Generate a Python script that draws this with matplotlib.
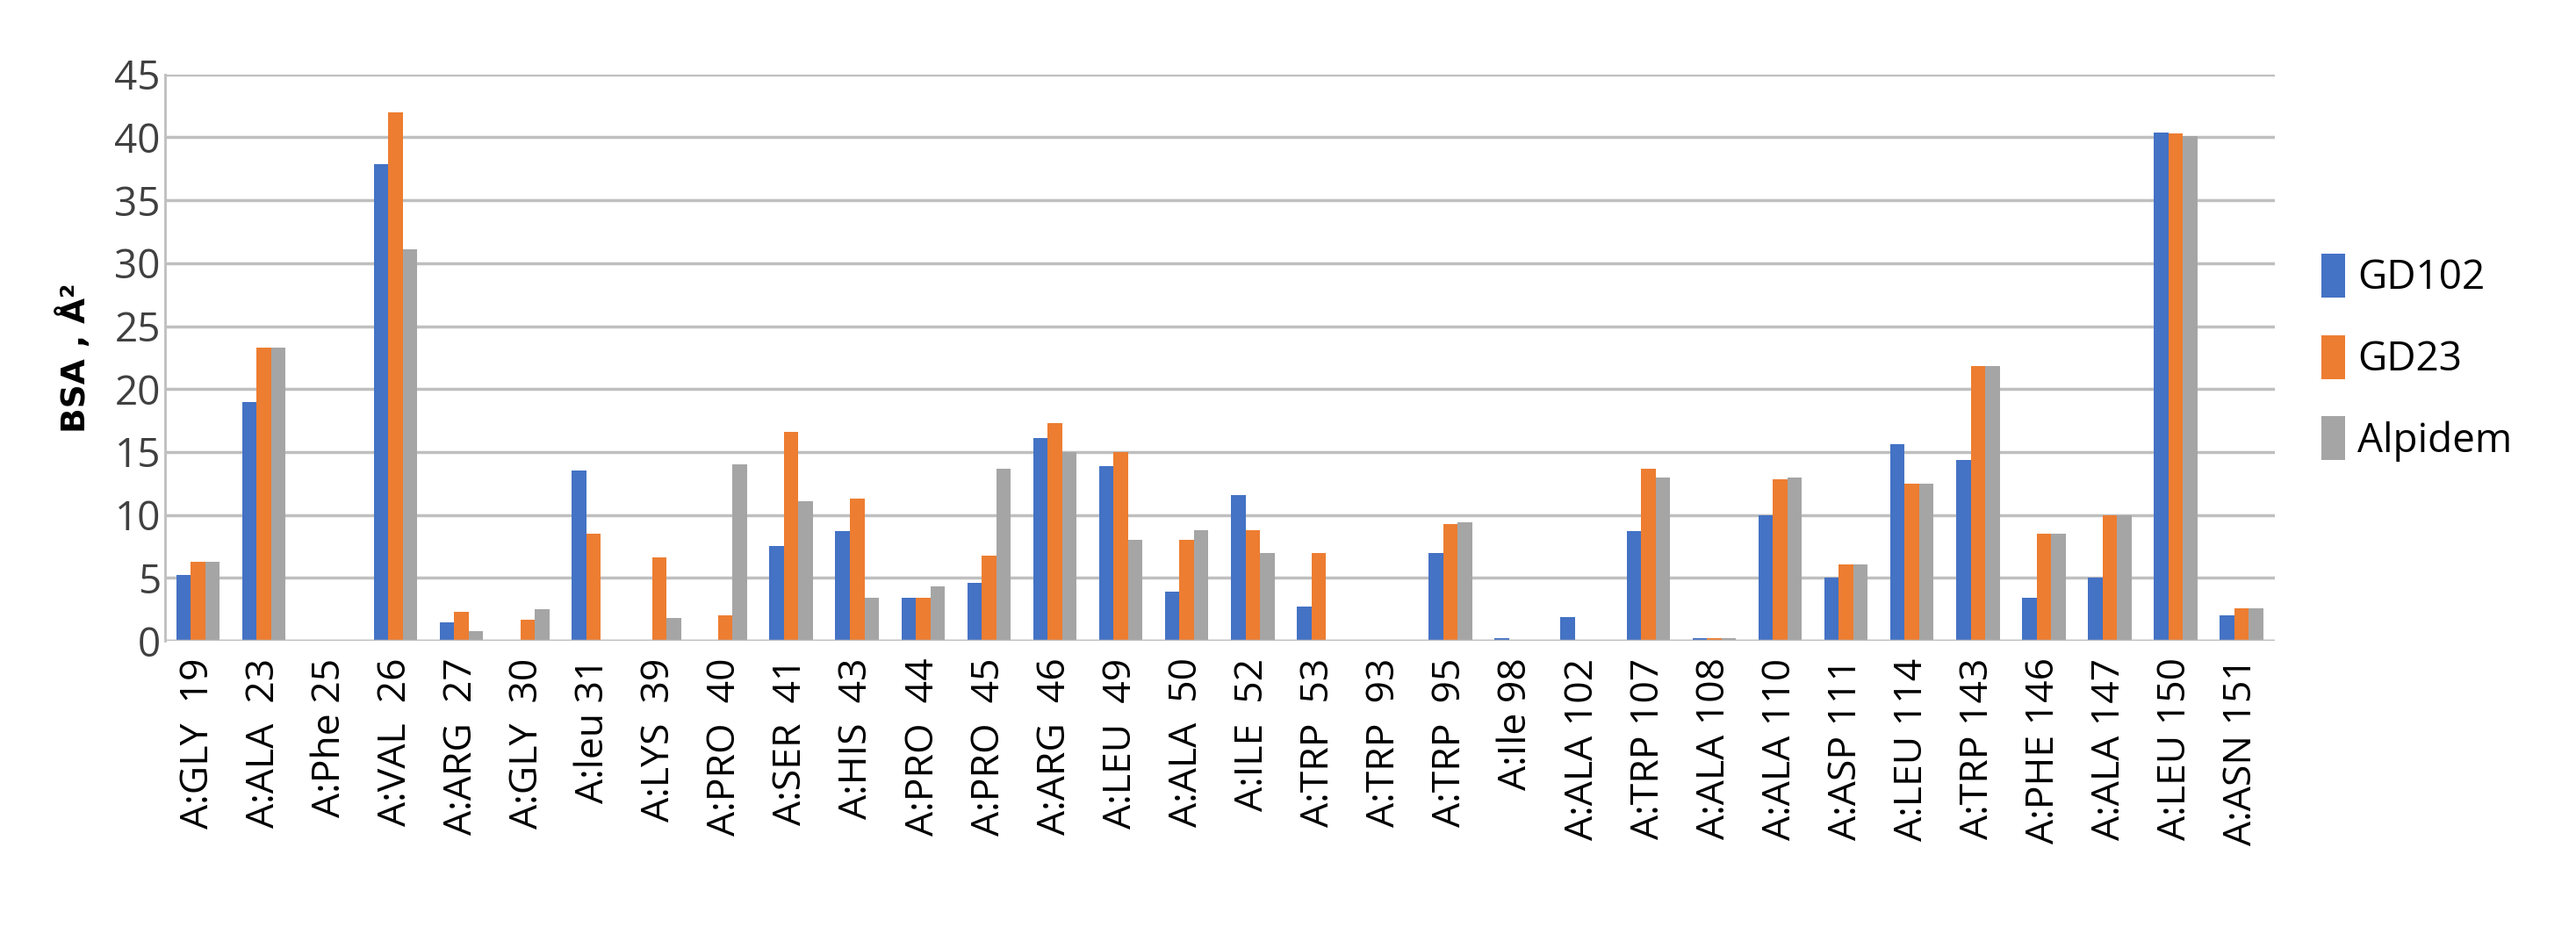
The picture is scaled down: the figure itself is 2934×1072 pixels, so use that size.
import matplotlib
matplotlib.use('Agg')
import matplotlib.pyplot as plt
import numpy as np

residues = ["A:GLY  19", "A:ALA  23", "A:Phe 25", "A:VAL  26", "A:ARG  27", "A:GLY  30",
            "A:leu 31", "A:LYS  39", "A:PRO  40", "A:SER  41", "A:HIS  43", "A:PRO  44",
            "A:PRO  45", "A:ARG  46", "A:LEU  49", "A:ALA  50", "A:ILE  52", "A:TRP  53",
            "A:TRP  93", "A:TRP  95", "A:Ile 98", "A:ALA 102", "A:TRP 107", "A:ALA 108",
            "A:ALA 110", "A:ASP 111", "A:LEU 114", "A:TRP 143", "A:PHE 146", "A:ALA 147",
            "A:LEU 150", "A:ASN 151"]
gd102 = [5.2, 19.0, 0, 37.9, 1.5, 0, 13.5, 0, 0, 7.5, 8.7, 3.4, 4.6, 16.1, 13.9, 3.9,
         11.6, 2.7, 0, 7.0, 0.2, 1.9, 8.7, 0.2, 10.0, 5.0, 15.6, 14.4, 3.4, 5.0, 40.4, 2.0]
gd23 = [6.3, 23.3, 0, 42.0, 2.3, 1.7, 8.5, 6.6, 2.0, 16.6, 11.3, 3.4, 6.8, 17.3, 15.0, 8.0,
        8.8, 7.0, 0, 9.3, 0, 0, 13.7, 0.2, 12.8, 6.1, 12.5, 21.8, 8.5, 10.0, 40.3, 2.6]
alpidem = [6.3, 23.3, 0, 31.1, 0.8, 2.5, 0, 1.8, 14.0, 11.1, 3.4, 4.3, 13.7, 15.0, 8.0, 8.8,
           7.0, 0, 0, 9.4, 0, 0, 13.0, 0.2, 13.0, 6.1, 12.5, 21.8, 8.5, 10.0, 40.1, 2.6]
series = [("GD102", gd102, "#4472C4"), ("GD23", gd23, "#ED7D31"), ("Alpidem", alpidem, "#A5A5A5")]

plt.rcParams['font.family'] = ['Open Sans', 'DejaVu Sans']
fig = plt.figure(figsize=(29.34, 10.72), dpi=100)
ax = fig.add_axes([0.064, 0.319, 0.819, 0.602])

x = np.arange(len(residues))
w = 0.22
for i, (name, vals, col) in enumerate(series):
    ax.bar(x + (i - 1) * w, vals, w, color=col, label=name, zorder=3)

ax.set_xlim(-0.5, len(residues) - 0.5)
ax.set_ylim(0, 45)
ax.set_yticks(range(0, 46, 5))
ax.yaxis.grid(True, color='#BFBFBF', linewidth=2.5, zorder=0)
ax.set_xticks(x)
ax.set_xticklabels(residues, rotation=90, fontsize=32)
ax.tick_params(axis='y', labelsize=33, length=0, colors='#404040')
ax.tick_params(axis='x', length=0, pad=14)
for s in ['top', 'right', 'bottom']:
    ax.spines[s].set_visible(False)
ax.spines['left'].set_color('#BFBFBF')
ax.spines['left'].set_linewidth(2)
ax.axhline(0, color='#BFBFBF', linewidth=2.5, zorder=4)
ax.set_ylabel("BSA , Å²", fontsize=27, fontweight='bold', family='DejaVu Sans', labelpad=18)

ax.legend(loc='center left', bbox_to_anchor=(1.005, 0.5), frameon=False, fontsize=33,
          handlelength=0.6, handleheight=1.3, labelspacing=0.9, handletextpad=0.3)

fig.savefig('out.png', dpi=100)
